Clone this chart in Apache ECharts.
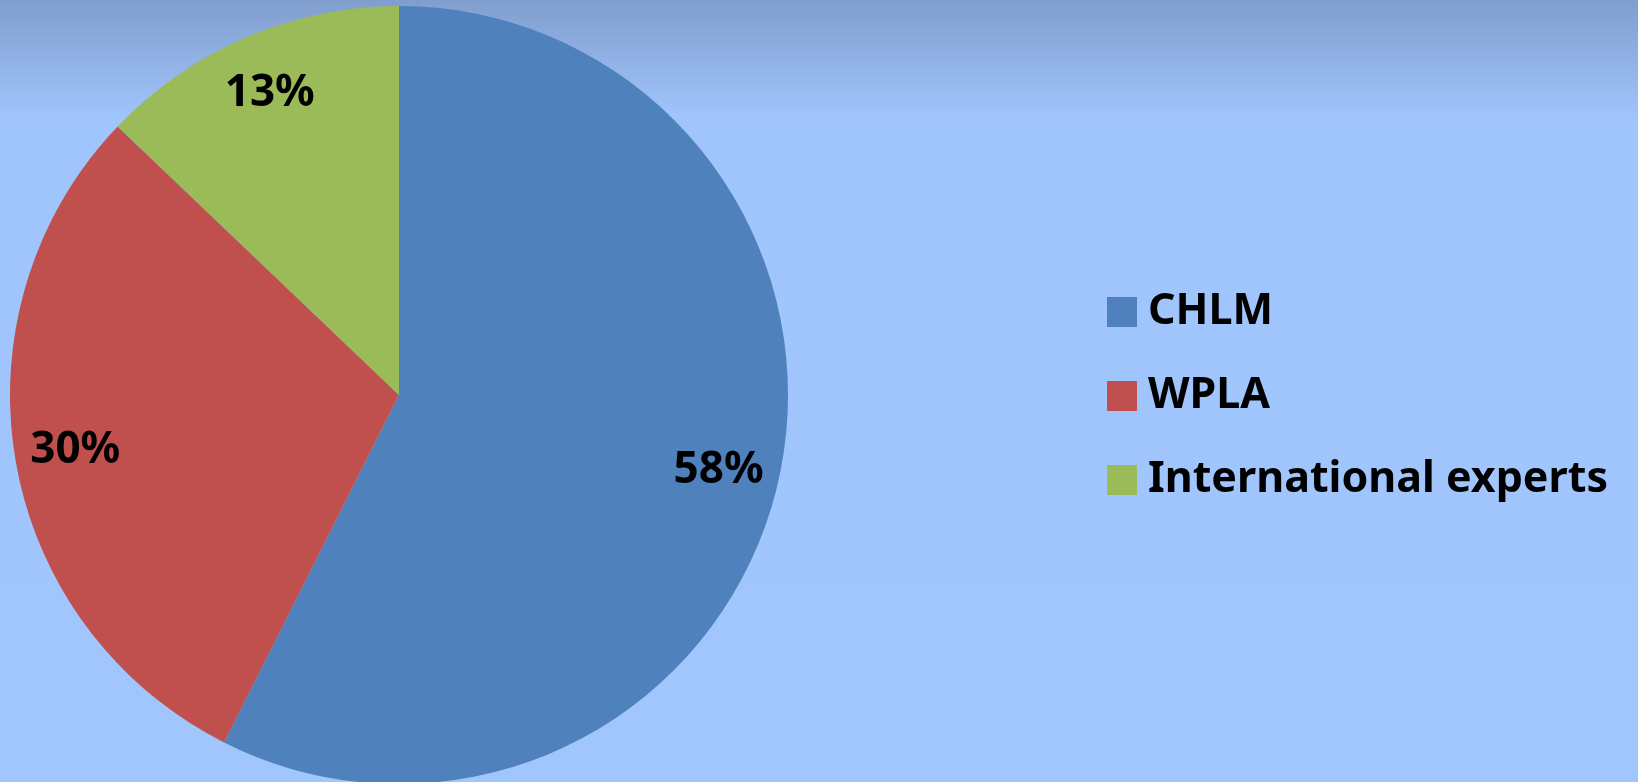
<!DOCTYPE html>
<html>
<head>
<meta charset="utf-8">
<script src="https://cdn.jsdelivr.net/npm/echarts@6/dist/echarts.min.js"></script>
<style>
    html,body{margin:0;padding:0;}
    #main{width:1638px;height:782px;}
</style>
</head>
<body>
<div id="main"></div>
<script>
    // data
    var categories = ['CHLM', 'WPLA', 'International experts'];
    var values = [58, 30, 13];
    var colors = ['#4f81bd', '#c0504d', '#9bbb59'];

    var pieData = categories.map(function (name, i) {
        return {name: name, value: values[i], itemStyle: {color: colors[i]}};
    });
    var font = '"Noto Sans", "Open Sans", sans-serif';

    var chart = echarts.init(document.getElementById('main'));
    chart.setOption({
        backgroundColor: {
            type: 'linear', x: 0, y: 0, x2: 0, y2: 1,
            colorStops: [
                {offset: 0, color: '#809ecd'},
                {offset: 0.15, color: '#a0c4fc'},
                {offset: 1, color: '#a1c5fd'}
            ]
        },
        legend: {
            orient: 'vertical',
            left: 1107,
            top: 290,
            padding: 0,
            icon: 'rect',
            itemWidth: 30,
            itemHeight: 30,
            itemGap: 40,
            data: categories,
            textStyle: {
                color: '#000',
                fontFamily: font,
                fontWeight: 'bold',
                fontSize: 43,
                lineHeight: 44,
                padding: [0, 0, 0, 6]
            }
        },
        series: [
            {
                type: 'pie',
                center: [399, 395],
                radius: [0, 389],
                startAngle: 90,
                clockwise: true,
                animation: false,
                label: {show: false},
                labelLine: {show: false},
                data: pieData
            },
            {
                // transparent ring only used to place labels near the rim
                type: 'pie',
                center: [399, 395],
                radius: [262, 389],
                startAngle: 90,
                clockwise: true,
                silent: true,
                animation: false,
                itemStyle: {color: 'rgba(0,0,0,0)'},
                label: {
                    show: true,
                    position: 'inside',
                    formatter: '{c}%',
                    color: '#000',
                    fontFamily: font,
                    fontWeight: 'bold',
                    fontSize: 44
                },
                labelLine: {show: false},
                data: categories.map(function (name, i) {
                    return {name: name, value: values[i]};
                })
            }
        ]
    });
</script>
</body>
</html>
